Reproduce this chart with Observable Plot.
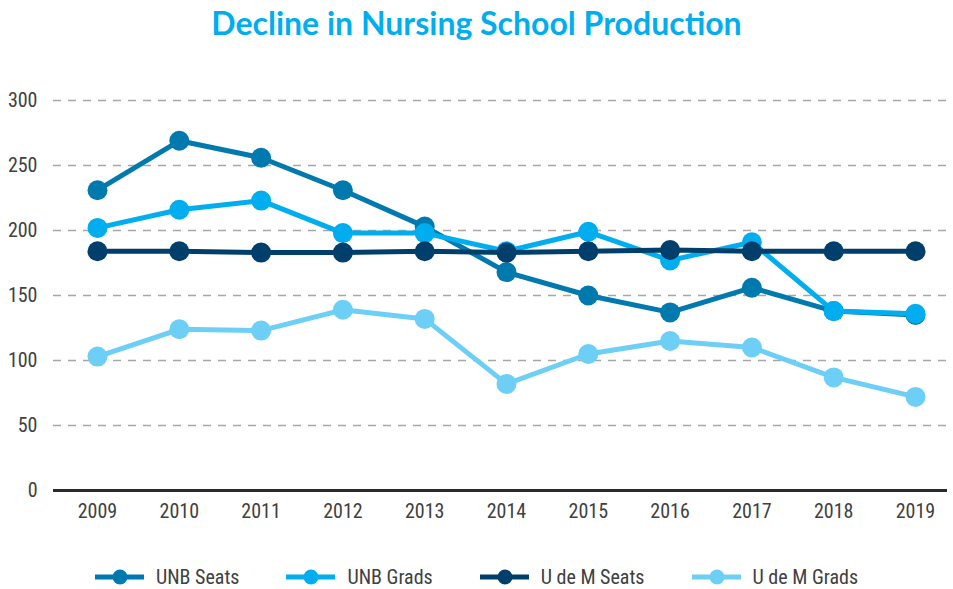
<!DOCTYPE html>
<html><head><meta charset="utf-8">
<script src="https://cdn.jsdelivr.net/npm/d3@7"></script>
<script src="https://cdn.jsdelivr.net/npm/@observablehq/plot@0.6"></script>
<style>
body{margin:0;background:#fff;width:953px;}
#title{height:50px;line-height:46px;text-align:center;font-family:Lato,sans-serif;font-weight:bold;font-size:32px;color:#00aeef;}
#legend{display:flex;justify-content:center;align-items:center;gap:47px;height:38px;margin-top:8px;
  font-family:"Liberation Sans Narrow","Roboto Condensed","DejaVu Sans Condensed",sans-serif;font-size:20px;color:#404040;}
.item{display:flex;align-items:center;}
.item svg{margin-right:12px;}
</style></head><body>
<div id="title">Decline in Nursing School Production</div>
<div id="chart"></div>
<div id="legend"></div>
<script>
const years = [2009, 2010, 2011, 2012, 2013, 2014, 2015, 2016, 2017, 2018, 2019];
const seriesNames = ["UNB Seats", "UNB Grads", "U de M Seats", "U de M Grads"];
const unbSeats = [231, 269, 256, 231, 203, 168, 150, 137, 156, 138, 135];
const unbGrads = [202, 216, 223, 198, 198, 184, 199, 177, 191, 138, 136];
const udmSeats = [184, 184, 183, 183, 184, 183, 184, 185, 184, 184, 184];
const udmGrads = [103, 124, 123, 139, 132, 82, 105, 115, 110, 87, 72];
const colors = ["#0079ae", "#00aeef", "#003f6b", "#6dcff6"];
const yTicks = [0, 50, 100, 150, 200, 250, 300];

const seriesValues = [unbSeats, unbGrads, udmSeats, udmGrads];
const data = seriesNames.flatMap((s, i) => years.map((yr, j) => ({series: s, year: yr, value: seriesValues[i][j]})));
const font = '"Liberation Sans Narrow","Roboto Condensed","DejaVu Sans Condensed",sans-serif';

const marks = [
  Plot.ruleY(yTicks.filter(d => d > 0), {stroke: "#a6a6a6", strokeWidth: 1.5, strokeDasharray: "8,7"}),
  Plot.ruleY([0], {stroke: "#2b2b2b", strokeWidth: 3}),
  Plot.axisY({ticks: yTicks, tickSize: 0, tickPadding: 16, label: null}),
  Plot.axisX({ticks: years, tickFormat: d => String(d), tickSize: 0, tickPadding: 13, label: null})
];
seriesNames.forEach(s => {
  const d = data.filter(r => r.series === s);
  marks.push(Plot.line(d, {x: "year", y: "value", stroke: "series", strokeWidth: 5, strokeLinejoin: "round"}));
  marks.push(Plot.dot(d, {x: "year", y: "value", fill: "series", r: 10}));
});

const chart = Plot.plot({
  width: 953, height: 500,
  marginTop: 50, marginBottom: 60, marginLeft: 53, marginRight: 6,
  x: {domain: [2009, 2019], insetLeft: 44, insetRight: 32, axis: null},
  y: {domain: [0, 300], axis: null},
  color: {domain: seriesNames, range: colors},
  style: {fontFamily: font, fontSize: "20px", color: "#404040", background: "white", overflow: "visible"},
  marks
});
document.getElementById("chart").appendChild(chart);

const legend = document.getElementById("legend");
seriesNames.forEach((s, i) => {
  const item = document.createElement("div");
  item.className = "item";
  item.innerHTML = `<svg width="49" height="16"><line x1="0" x2="49" y1="8" y2="8" stroke="${colors[i]}" stroke-width="5"/><circle cx="25" cy="8" r="7.5" fill="${colors[i]}"/></svg><span>${s}</span>`;
  legend.appendChild(item);
});
</script>
</body></html>
